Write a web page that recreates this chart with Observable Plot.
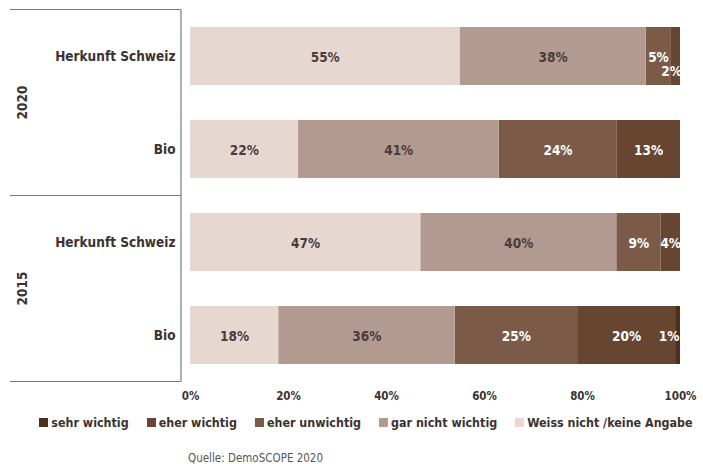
<!DOCTYPE html>
<html>
<head>
<meta charset="utf-8">
<script src="https://cdn.jsdelivr.net/npm/d3@7"></script>
<script src="https://cdn.jsdelivr.net/npm/@observablehq/plot@0.6"></script>
<style>
  body { margin: 0; background: #fff; }
  #wrap { width: 703px; font-family: "Liberation Sans Narrow", "DejaVu Sans Condensed", "Roboto Condensed", sans-serif; }
  #legend { display: flex; justify-content: center; gap: 18px; margin-top: 7px; height: 20px; align-items: center;
            font-weight: bold; font-size: 12.4px; color: #3b3232; padding-left: 29px; }
  #legend .item { display: flex; align-items: center; }
  #legend .sw { width: 9px; height: 9px; margin-right: 3px; display: inline-block; }
  #caption { margin-top: 19px; margin-left: 188px; font-size: 11.5px; color: #555; }
</style>
</head>
<body>
<div id="wrap">
  <div id="chart"></div>
  <div id="legend"></div>
  <div id="caption">Quelle: DemoSCOPE 2020</div>
</div>
<script>
// ---- data ----
const years = ["2020", "2020", "2015", "2015"];
const items = ["Herkunft Schweiz", "Bio", "Herkunft Schweiz", "Bio"];
const categories = ["sehr wichtig", "eher wichtig", "eher unwichtig", "gar nicht wichtig", "Weiss nicht /keine Angabe"];
const colors = ["#4e2e1c", "#664531", "#7b5b48", "#b39a90", "#e6d7d1"];
const sehrWichtig = [0, 0, 0, 1];
const eherWichtig = [2, 13, 4, 20];
const eherUnwichtig = [5, 24, 9, 25];
const garNichtWichtig = [38, 41, 40, 36];
const weissNicht = [55, 22, 47, 18];
const xTicks = [0, 20, 40, 60, 80, 100];

(function () {
const seriesValues = [sehrWichtig, eherWichtig, eherUnwichtig, garNichtWichtig, weissNicht];
const keys = years.map((y, i) => y + " " + items[i]);
const data = [];
keys.forEach((k, i) => {
  categories.forEach((c, j) => {
    data.push({ key: k, year: years[i], item: items[i], cat: c, value: seriesValues[j][i] });
  });
});
const stackOrder = categories.slice().reverse();
const darkText = new Set(["gar nicht wichtig", "Weiss nicht /keine Angabe"]);
const font = '"Liberation Sans Narrow", "DejaVu Sans Condensed", sans-serif';
const padIn = 0.376, padOut = 0.188;

const isTiny = d => d.value <= 2;
const label = cond => d => (d.value > 0 && cond(d)) ? d.value + "%" : null;

const textStack = (cond, extra) => Plot.text(data, Plot.stackX({
  x: "value", y: "key", z: "cat", order: stackOrder,
  text: label(cond),
  fill: d => darkText.has(d.cat) ? "#4a3c3d" : "#ffffff",
  fontSize: 13.5, fontWeight: "bold",
  ...extra
}));

const plot = Plot.plot({
  width: 703,
  height: 405,
  marginLeft: 190,
  marginRight: 23,
  marginTop: 10,
  marginBottom: 23,
  style: { fontFamily: font, background: "#fff" },
  x: { domain: [0, 100], axis: null },
  y: { domain: keys, paddingInner: padIn, paddingOuter: padOut, axis: null },
  color: { domain: categories, range: colors },
  marks: [
    Plot.barX(data, Plot.stackX({ x: "value", y: "key", fill: "cat", order: stackOrder })),
    textStack(d => !isTiny(d), { dy: 1 }),
    textStack(d => d.value === 1, { dx: -9, dy: 1 }),
    textStack(d => d.value === 2, { dx: -4, dy: 15 }),
    Plot.axisY({
      tickSize: 0, tickPadding: 15,
      tickFormat: k => items[keys.indexOf(k)],
      fontSize: 13.5, fontWeight: "bold", fill: "#3b3232", label: null
    }),
    Plot.axisX({
      ticks: xTicks, tickFormat: d => d + "%",
      tickSize: 0, tickPadding: 9, anchor: "bottom",
      fontSize: 11.5, fontWeight: "bold", fill: "#3b3232", label: null
    })
  ]
});

document.getElementById("chart").appendChild(plot);

// left panel: grouping lines and year labels, positioned from the y scale
const ys = plot.scale("y");
const bw = ys.bandwidth;
const step = ys.step;
const svg = d3.select(plot);
const yTop = ys.apply(keys[0]) - padOut * step;
const yBottom = ys.apply(keys[3]) + bw + padOut * step;
const yMid = (ys.apply(keys[1]) + bw + ys.apply(keys[2])) / 2;
const lineX1 = 10, lineX2 = 181;
const g = svg.append("g").attr("stroke", "#7a7a7a").attr("stroke-width", 1.2);
[yTop, yMid, yBottom].forEach(yv => {
  g.append("line").attr("x1", lineX1).attr("x2", lineX2).attr("y1", yv).attr("y2", yv);
});
g.append("line").attr("x1", lineX2).attr("x2", lineX2).attr("y1", yTop).attr("y2", yBottom);

const yearGroups = Array.from(new Set(years));
yearGroups.forEach(yr => {
  const ks = keys.filter((k, i) => years[i] === yr);
  const yc = (ys.apply(ks[0]) + ys.apply(ks[ks.length - 1]) + bw) / 2;
  svg.append("text")
    .attr("transform", `translate(23,${yc}) rotate(-90)`)
    .attr("text-anchor", "middle")
    .attr("dominant-baseline", "middle")
    .attr("font-family", font)
    .attr("font-weight", "bold")
    .attr("font-size", 13.5)
    .attr("fill", "#3b3232")
    .text(yr);
});

// legend
const legend = d3.select("#legend");
categories.forEach((c, i) => {
  const it = legend.append("div").attr("class", "item");
  it.append("span").attr("class", "sw").style("background", colors[i]);
  it.append("span").text(c);
});
})();
</script>
</body>
</html>
